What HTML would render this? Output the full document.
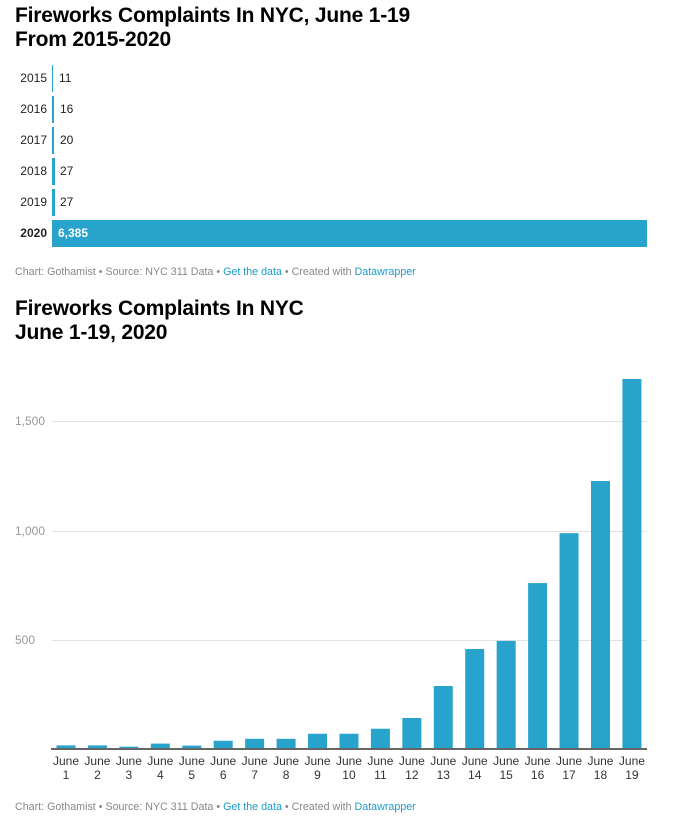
<!DOCTYPE html>
<html><head><meta charset="utf-8"><style>
body{margin:0;background:#fff;font-family:"Liberation Sans",sans-serif;}
.h{position:absolute;left:15px;font-weight:bold;font-size:21px;line-height:24px;color:#000;letter-spacing:-0.2px}
.f{position:absolute;left:15px;font-size:10.7px;color:#888}
.f a{color:#1d9bc9;text-decoration:none}
</style></head><body>
<div class="h" style="top:4px">Fireworks Complaints In NYC, June 1-19<br>From 2015-2020</div>
<svg style="position:absolute;left:0;top:0" width="675" height="822" font-family="Liberation Sans, sans-serif">
<g font-size="12" fill="#222">
<text x="47" y="82" text-anchor="end">2015</text><rect x="52" y="65" width="1" height="27" fill="#27a3cc"/><text x="59" y="82">11</text>
<text x="47" y="113" text-anchor="end">2016</text><rect x="52" y="96" width="2" height="27" fill="#27a3cc"/><text x="60" y="113">16</text>
<text x="47" y="144" text-anchor="end">2017</text><rect x="52" y="127" width="2" height="27" fill="#27a3cc"/><text x="60" y="144">20</text>
<text x="47" y="175" text-anchor="end">2018</text><rect x="52" y="158" width="3" height="27" fill="#27a3cc"/><text x="60" y="175">27</text>
<text x="47" y="206" text-anchor="end">2019</text><rect x="52" y="189" width="3" height="27" fill="#27a3cc"/><text x="60" y="206">27</text>
<text x="47" y="237" text-anchor="end" font-weight="bold">2020</text><rect x="52" y="220" width="595" height="27" fill="#27a3cc"/><text x="58" y="237" fill="#fff" font-weight="bold">6,385</text>
</g>
<g stroke="#e2e2e2" stroke-width="1">
<line x1="52" x2="647" y1="421.5" y2="421.5"/><line x1="52" x2="647" y1="531.5" y2="531.5"/><line x1="52" x2="647" y1="640.5" y2="640.5"/>
</g>
<g font-size="12" fill="#999"><text x="15" y="425">1,500</text><text x="15" y="535">1,000</text><text x="15" y="644">500</text></g>
<g fill="#27a3cc" id="bars"></g>
<line x1="51" x2="647" y1="749" y2="749" stroke="#333" stroke-width="1.5"/>
<g font-size="12" fill="#333" text-anchor="middle" id="lbls"></g>
</svg>
<div class="h" style="top:297px">Fireworks Complaints In NYC<br>June 1-19, 2020</div>
<div class="f" style="top:266px">Chart: Gothamist • Source: NYC 311 Data • <a>Get the data</a> • Created with <a>Datawrapper</a></div>
<div class="f" style="top:801px">Chart: Gothamist • Source: NYC 311 Data • <a>Get the data</a> • Created with <a>Datawrapper</a></div>
<script>
var v=[12,12,6,20,11,33,42,42,65,65,88,137,283,452,489,753,981,1219,1685];
var b=document.getElementById('bars'),l=document.getElementById('lbls'),ns='http://www.w3.org/2000/svg';
v.forEach(function(d,i){var cx=66+i*31.44,h=d*0.219;
var r=document.createElementNS(ns,'rect');r.setAttribute('x',cx-9.5);r.setAttribute('y',748-h);r.setAttribute('width',19);r.setAttribute('height',h);b.appendChild(r);
var t=document.createElementNS(ns,'text');t.setAttribute('x',cx);t.setAttribute('y',765);t.textContent='June';l.appendChild(t);
t=document.createElementNS(ns,'text');t.setAttribute('x',cx);t.setAttribute('y',779);t.textContent=String(i+1);l.appendChild(t);});
</script>
</body></html>
